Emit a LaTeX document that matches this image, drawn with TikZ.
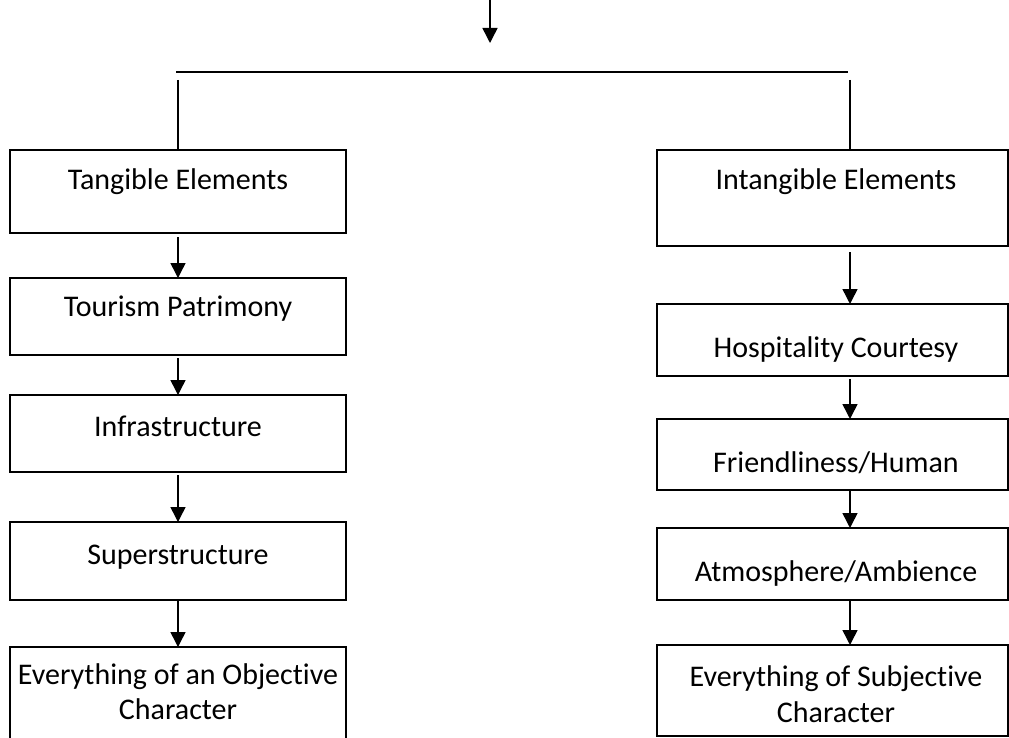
\documentclass[tikz,border=0pt]{standalone}
\usepackage{fontspec}
\setmainfont[Ligatures=NoCommon]{Carlito}
\usetikzlibrary{arrows.meta}
\newcommand{\lbfont}{\fontsize{30}{36}\selectfont}
\begin{document}
\begin{tikzpicture}[x=1pt,y=-1pt,
  box/.style={draw, line width=1.5pt, anchor=north west, inner sep=0pt, outer sep=0pt},
  lbl/.style={font=\lbfont, anchor=base, inner sep=0pt},
  ln/.style={line width=1.5pt},
  arr/.style={line width=1.5pt, -{Triangle[width=15pt,length=15pt]}}]
\useasboundingbox[fill=white] (0,0) rectangle (1009,738);
\clip (0,0) rectangle (1009,738);
% left column boxes
\node[box, minimum width=336pt, minimum height=83pt] (t1) at (10,150) {};
\node[box, minimum width=336pt, minimum height=77pt] (t2) at (10,278) {};
\node[box, minimum width=336pt, minimum height=77pt] (t3) at (10,395) {};
\node[box, minimum width=336pt, minimum height=78pt] (t4) at (10,522) {};
\node[box, minimum width=336pt, minimum height=123pt] (t5) at (10,647) {};
% right column boxes
\node[box, minimum width=351pt, minimum height=96pt] (r1) at (657,150) {};
\node[box, minimum width=351pt, minimum height=72pt] (r2) at (657,304) {};
\node[box, minimum width=351pt, minimum height=71pt] (r3) at (657,419) {};
\node[box, minimum width=351pt, minimum height=72pt] (r4) at (657,528) {};
\node[box, minimum width=351pt, minimum height=91pt] (r5) at (657,645) {};
% labels
\node[lbl] (lt1) at (178,190) {Tangible Elements};
\node[lbl] (lt2) at (178,316) {Tourism Patrimony};
\node[lbl] (lt3) at (178,436) {Infrastructure};
\node[lbl] (lt4) at (178,564) {Superstructure};
\node[lbl] (lt5a) at (178,684) {Everything of an Objective};
\node[lbl] (lt5b) at (178,719) {Character};
\node[lbl] (lr1) at (836,190) {Intangible Elements};
\node[lbl] (lr2) at (836,357) {Hospitality Courtesy};
\node[lbl] (lr3) at (836,472) {Friendliness/Human};
\node[lbl] (lr4) at (836,581) {Atmosphere/Ambience};
\node[lbl] (lr5a) at (836,686) {Everything of Subjective};
\node[lbl] (lr5b) at (836,722) {Character};
% top connectors
\coordinate (top) at (490,0);
\coordinate (topend) at (490,43);
\draw[arr] (top) -- (topend);
\coordinate (hl) at (176,72);
\coordinate (hr) at (848,72);
\draw[ln] (hl) -- (hr);
\coordinate (lv) at (178,80);
\coordinate (rv) at (850,80);
\draw[ln] (lv) -- (t1.north);
\draw[ln] (rv) -- (rv |- r1.north);
% left arrows
\draw[arr, shorten <=4pt] (t1.south) -- (t2.north);
\draw[arr, shorten <=3pt] (t2.south) -- (t3.north);
\draw[arr, shorten <=3pt] (t3.south) -- (t4.north);
\draw[arr, shorten <=1pt] (t4.south) -- (t5.north);
% right arrows
\draw[arr, shorten <=6pt] (r1.south -| rv) -- (r2.north -| rv);
\draw[arr, shorten <=3pt] (r2.south -| rv) -- (r3.north -| rv);
\draw[arr, shorten <=1pt] (r3.south -| rv) -- (r4.north -| rv);
\draw[arr, shorten <=1pt] (r4.south -| rv) -- (r5.north -| rv);
\end{tikzpicture}
\end{document}
